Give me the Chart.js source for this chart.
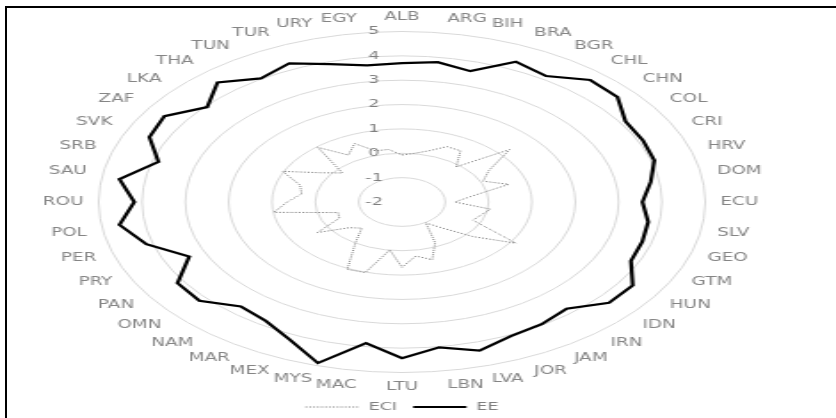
<!DOCTYPE html>
<html>
<head>
<meta charset="utf-8">
<script src="https://cdn.jsdelivr.net/npm/chart.js@4.4.1/dist/chart.umd.min.js"></script>
<style>
  html, body { margin: 0; padding: 0; background: #fff; }
  #lienzo { position: relative; width: 836px; height: 418px; overflow: hidden; }
  /* el original esta estirado a lo ancho: se dibuja en 470px y se escala */
  #caja { position: absolute; left: 0; top: 0; width: 470px; height: 418px; transform: scaleX(1.7787); transform-origin: 0 0; }
  #marco { position: absolute; left: 5px; top: 6px; right: -20px; bottom: -20px; border-left: 2px solid #000; border-top: 2px solid #000; pointer-events: none; }
</style>
</head>
<body>
<div id="lienzo">
  <div id="caja"><canvas id="myChart"></canvas></div>
  <div id="marco"></div>
</div>
<script>
/*DATOS*/
const paises = ["ALB","ARG","BIH","BRA","BGR","CHL","CHN","COL","CRI","HRV","DOM","ECU","SLV","GEO","GTM",
  "HUN","IDN","IRN","JAM","JOR","LVA","LBN","LTU","MAC","MYS","MEX","MAR","NAM","OMN","PAN","PRY","PER",
  "POL","ROU","SAU","SRB","SVK","ZAF","LKA","THA","TUN","TUR","URY","EGY"]

const datosECI = [-0.07, 0.02, 0.19, 0.50, 0.50, -0.09, 1.29, 0.38, 0.06, 0.57, -0.39, -0.78, 0.06, -0.10, -0.20,
  1.13, 0.17, -0.59, -0.98, -0.16, 0.47, 0.24, 0.68, -0.01, 1.02, 1.04, -0.01, -0.58, -0.39, 0.32, -0.41, -0.46,
  0.99, 0.65, 0.34, 0.45, 1.03, 0.22, -0.18, 0.97, 0.29, 0.64, 0.19, 0.18]

const datosEE = [3.70, 3.80, 3.60, 4.33, 4.15, 4.63, 4.58, 4.13, 4.11, 4.07, 3.80, 3.55, 3.74, 3.78, 3.81,
  4.33, 4.32, 3.80, 3.96, 4.05, 4.36, 4.03, 4.41, 3.85, 4.89, 4.22, 3.81, 3.68, 4.19, 4.16, 3.40, 4.15,
  4.59, 4.18, 4.59, 3.86, 4.41, 4.52, 3.95, 4.50, 4.03, 4.26, 3.90, 3.67]

const etiquetasEje = ["-2","-1","0","1","2","3","4","5"]

/*CONFIG*/
const fuente = "'Liberation Sans Narrow', 'Arial Narrow', 'DejaVu Sans Condensed', sans-serif"
const espacios = "\u2007\u2007\u2007\u2007\u2007"

// la leyenda con pointStyle no copia el borderDash del dataset
function etiquetasLeyenda (chart) {
  const items = Chart.defaults.plugins.legend.labels.generateLabels(chart)
  items.forEach((item) => {
    item.lineDash = chart.data.datasets[item.datasetIndex].borderDash || []
  })
  return items
}

const config = {
  type: "radar",
  data: {
    labels: paises,
    datasets: [
      { label: "ECI", data: datosECI, borderColor: "#7a7a7a", borderWidth: 1, borderDash: [1, 1.2], pointRadius: 0, fill: false },
      { label: "EE", data: datosEE, borderColor: "#000000", borderWidth: 2.2, pointRadius: 0, fill: false }
    ]
  },
  options: {
    responsive: true,
    maintainAspectRatio: false,
    animation: false,
    layout: { padding: { left: 0, right: 18, top: 11.5, bottom: -4.5 } },
    plugins: {
      legend: {
        position: "bottom",
        labels: { usePointStyle: true, pointStyle: "line", pointStyleWidth: 30, padding: 9, color: "#7f7f7f",
          font: { family: fuente, size: 11 }, generateLabels: etiquetasLeyenda }
      },
      tooltip: { enabled: false }
    },
    scales: {
      r: {
        min: Number(etiquetasEje[0]),
        max: Number(etiquetasEje[etiquetasEje.length - 1]),
        ticks: {
          stepSize: 1, color: "#7f7f7f", showLabelBackdrop: false, backdropPadding: 0,
          font: { family: fuente, size: 11 },
          callback: (valor, i) => etiquetasEje[i] + espacios
        },
        grid: { circular: true, color: "#d9d9d9", lineWidth: 1 },
        angleLines: { display: false },
        pointLabels: { color: "#858585", padding: 3, font: { family: fuente, size: 11.5, lineHeight: 1 } }
      }
    }
  }
}

new Chart(document.querySelector("#myChart"), config)
</script>
</body>
</html>
